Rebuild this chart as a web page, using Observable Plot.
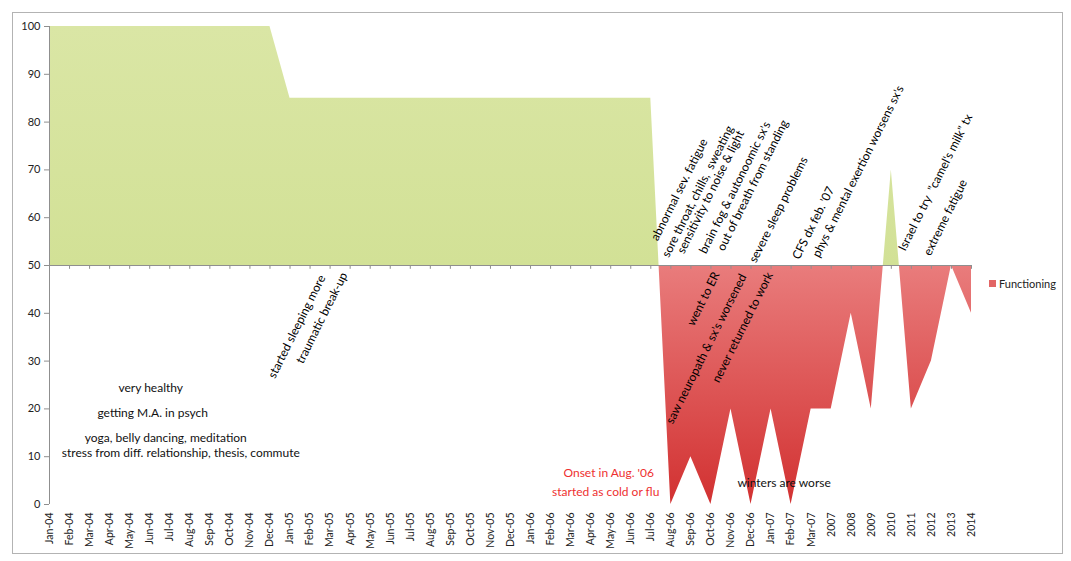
<!DOCTYPE html>
<html>
<head>
<meta charset="utf-8">
<script src="https://cdn.jsdelivr.net/npm/d3@7"></script>
<script src="https://cdn.jsdelivr.net/npm/@observablehq/plot@0.6"></script>
<style>
  body { margin: 0; background: #fff; }
  #wrap { position: relative; width: 1071px; height: 561px; font-family: Lato, "Open Sans", sans-serif; }
  #border { position: absolute; left: 12px; top: 12px; width: 1049px; height: 540px; border: 1px solid #b3b3b3; pointer-events: none; }
  #legend { position: absolute; left: 989px; top: 277px; font-size: 11px; color: #222; display: flex; align-items: center; gap: 3px; }
  #legend span.sw { display: inline-block; width: 7px; height: 7px; background: #e26565; }
</style>
</head>
<body>
<div id="wrap">
  <div id="chart"></div>
  <div id="border"></div>
  <div id="legend"><span class="sw"></span><span>Functioning</span></div>
</div>
<script>
// Timeline categories: monthly through Mar-07, then yearly
const months = [
  "Jan-04", "Feb-04", "Mar-04", "Apr-04", "May-04", "Jun-04", "Jul-04", "Aug-04", "Sep-04", "Oct-04", "Nov-04", "Dec-04",
  "Jan-05", "Feb-05", "Mar-05", "Apr-05", "May-05", "Jun-05", "Jul-05", "Aug-05", "Sep-05", "Oct-05", "Nov-05", "Dec-05",
  "Jan-06", "Feb-06", "Mar-06", "Apr-06", "May-06", "Jun-06", "Jul-06", "Aug-06", "Sep-06", "Oct-06", "Nov-06", "Dec-06",
  "Jan-07", "Feb-07", "Mar-07",
  "2007", "2008", "2009", "2010", "2011", "2012", "2013", "2014"
];

// Functioning level (0-100) for each category
const functioning = [
  100, 100, 100, 100, 100, 100, 100, 100, 100, 100, 100, 100,
  85, 85, 85, 85, 85, 85, 85, 85, 85, 85, 85, 85,
  85, 85, 85, 85, 85, 85, 85, 0, 10, 0, 20, 0,
  20, 0, 20,
  20, 40, 20, 70, 20, 30, 50, 40
];

const yTicks = [0, 10, 20, 30, 40, 50, 60, 70, 80, 90, 100];
const baseline = 50;

// Slanted event notes, anchored at (category index, level)
const slantNotes = [
  { text: "started sleeping more", at: 11.25, level: 26.2 },
  { text: "traumatic break-up", at: 12.65, level: 29.3 },
  { text: "abnormal sev. fatigue", at: 30.35, level: 55.0 },
  { text: "sore throat, chills,  sweating", at: 30.9, level: 51.5 },
  { text: "sensitivity to noise & light", at: 31.65, level: 52.3 },
  { text: "brain fog & autonoomic sx's", at: 32.75, level: 52.3 },
  { text: "out of breath from standing", at: 33.65, level: 52.9 },
  { text: "severe sleep problems", at: 35.25, level: 50.4 },
  { text: "CFS dx feb. '07", at: 37.4, level: 51.1 },
  { text: "phys & mental exertion worsens sx's", at: 38.4, level: 51.5 },
  { text: "Israel to try  \"camel's milk\" tx", at: 42.7, level: 52.9 },
  { text: "extreme fatigue", at: 43.95, level: 51.9 },
  { text: "went to ER", at: 32.15, level: 37.2 },
  { text: "saw neuropath & sx's worsened", at: 31.1, level: 16.7 },
  { text: "never returned to work", at: 33.4, level: 25.3 }
];

// Horizontal notes
const flatNotes = [
  { text: "very healthy", at: 5.05, level: 24.3, color: "#111" },
  { text: "getting M.A. in psych", at: 5.15, level: 19.2, color: "#111" },
  { text: "yoga, belly dancing, meditation", at: 5.8, level: 13.8, color: "#111" },
  { text: "stress from diff. relationship, thesis, commute", at: 6.55, level: 10.7, color: "#111" },
  { text: "Onset in Aug. '06", at: 27.9, level: 6.5, color: "#ee3030" },
  { text: "started as cold or flu", at: 27.75, level: 2.5, color: "#ee3030" },
  { text: "winters are worse", at: 36.65, level: 4.4, color: "#111" }
];

const rows = months.map((m, i) => ({ i, month: m, value: functioning[i] }));

const plot = Plot.plot({
  width: 1071,
  height: 561,
  marginLeft: 49,
  marginRight: 100,
  marginTop: 26,
  marginBottom: 57,
  style: { fontFamily: "Lato, 'Open Sans', sans-serif", fontSize: "11px", background: "transparent", overflow: "visible" },
  x: { type: "linear", domain: [0, months.length - 1] },
  y: { domain: [0, 100] },
  marks: [
    // area between the value and the 50 line, coloured by side via a gradient
    Plot.areaY(rows, { x: "i", y1: baseline, y2: "value", fill: "url(#fnGrad)" }),
    Plot.ruleY([baseline], { stroke: "#8f8f8f" }),
    Plot.ruleX(rows, { x: "i", y1: baseline, y2: baseline - 0.8, stroke: "#8f8f8f" }),
    Plot.ruleX([0], { stroke: "#8f8f8f" }),
    Plot.axisY({ ticks: yTicks, tickSize: 5, tickPadding: 4, label: null, stroke: "#8f8f8f", fill: "#222", fontSize: 11 }),
    Plot.axisX({
      ticks: rows.map((d) => d.i),
      tickFormat: (i) => months[i],
      tickRotate: -90,
      tickSize: 0,
      tickPadding: 8,
      label: null,
      fill: "#222",
      fontSize: 10.5
    }),
    Plot.text(slantNotes, {
      x: "at", y: "level", text: "text",
      rotate: -63.5, textAnchor: "start", lineAnchor: "bottom",
      fill: "#000", fontSize: 12
    }),
    Plot.text(flatNotes, {
      x: "at", y: "level", text: "text", fill: "color", fontSize: 12
    })
  ]
});

// gradient: green above the 50 line, red fading darker below it
const ys = plot.scale("y");
const yTop = ys.apply(100), yMid = ys.apply(baseline), yBot = ys.apply(0);
const t = (yMid - yTop) / (yBot - yTop);
const svg = d3.select(plot);
const grad = svg.insert("defs", ":first-child")
  .append("linearGradient")
  .attr("id", "fnGrad")
  .attr("gradientUnits", "userSpaceOnUse")
  .attr("x1", 0).attr("x2", 0)
  .attr("y1", yTop).attr("y2", yBot);
[
  [0, "#dae6a5"],
  [t, "#d2e196"],
  [t, "#e97c7c"],
  [1, "#d23131"]
].forEach(([o, c]) => grad.append("stop").attr("offset", o).attr("stop-color", c));

document.getElementById("chart").appendChild(plot);
</script>
</body>
</html>
